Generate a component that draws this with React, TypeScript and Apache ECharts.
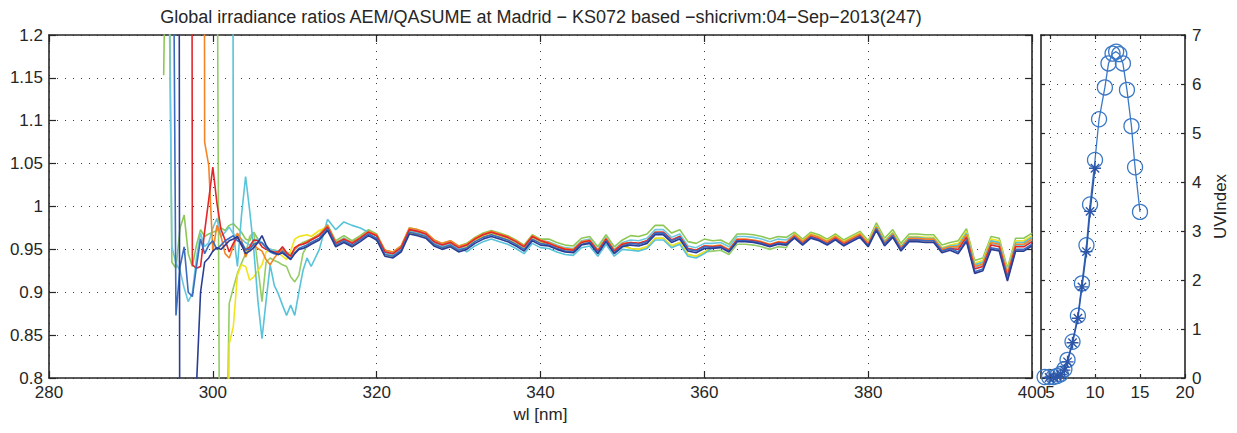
import React, { useEffect, useRef } from "react";
import * as echarts from "echarts";

// ---------- DATA ----------
const titleText =
  "Global irradiance ratios AEM/QASUME at Madrid \u2212 KS072 based \u2212shicrivm:04\u2212Sep\u22122013(247)";

// Wavelengths of the noisy short-wave part (nm)
const headWl = [
  293.5, 294, 294.5, 295, 295.5, 296, 296.5, 297, 297.5, 298, 298.5, 299, 299.5, 300, 300.5, 301, 301.5, 302,
  302.5, 303, 303.5, 304, 304.5, 305, 305.5, 306, 306.5, 307, 307.5, 308, 308.5, 309, 309.5, 310, 310.5, 311,
  311.5, 312, 313, 314, 315, 316, 317, 318, 319, 320,
];

// Per-series ratio values over headWl (values far outside 0.8-1.2 are off-chart excursions)
const darkBlueHead = [
  5, 5, 5, 5, 5, 0.3, 0.3, 0.3, 0.3, 0.79, 0.9, 0.935, 0.94, 0.948, 0.952, 0.95, 0.955, 0.96, 0.962, 0.965,
  0.955, 0.945, 0.948, 0.952, 0.958, 0.966, 0.955, 0.948, 0.946, 0.944, 0.946, 0.942, 0.938, 0.945, 0.95, 0.951,
  0.953, 0.956, 0.961, 0.972, 0.953, 0.958, 0.953, 0.959, 0.966, 0.961,
];
const blueHead = [
  5, 5, 5, 1.6, 0.873, 0.93, 0.953, 0.9, 0.895, 0.93, 0.962, 0.945, 0.955, 0.96, 0.95, 0.955, 0.96, 0.963,
  0.966, 0.96, 0.958, 0.95, 0.95, 0.956, 0.958, 0.958, 0.952, 0.947, 0.945, 0.944, 0.948, 0.943, 0.939, 0.946,
  0.951, 0.953, 0.955, 0.958, 0.963, 0.974, 0.955, 0.96, 0.955, 0.961, 0.968, 0.963,
];
const cyanAHead = [
  5, 5, 1.4, 0.953, 0.934, 0.925, 0.905, 0.889, 0.899, 0.94, 0.969, 0.953, 0.958, 0.975, 0.986, 0.965, 0.97,
  0.976, 0.968, 0.965, 0.962, 0.958, 0.955, 0.96, 0.962, 0.957, 0.953, 0.95, 0.949, 0.948, 0.951, 0.946, 0.943,
  0.95, 0.954, 0.956, 0.958, 0.961, 0.966, 0.977, 0.958, 0.963, 0.958, 0.964, 0.971, 0.966,
];
const cyanBHead = [
  5, 5, 5, 5, 5, 5, 5, 5, 5, 5, 5, 5, 5, 5, 5, 5, 5, 5, 0.97, 0.93, 0.99, 1.035, 0.995, 0.95, 0.89, 0.846, 0.89,
  0.932, 0.908, 0.898, 0.885, 0.873, 0.885, 0.873, 0.9, 0.925, 0.94, 0.93, 0.95, 0.985, 0.973, 0.982, 0.978,
  0.975, 0.97, 0.96,
];
const greenAHead = [
  null, 1.153, 1.5, 0.935, 0.928, 0.975, 0.99, 0.945, 0.93, 0.955, 0.973, 0.965, 0.968, 0.97, 0.972, 0.975,
  0.972, 0.978, 0.98, 0.975, 0.97, 0.962, 0.96, 0.97, 0.962, 0.957, 0.952, 0.95, 0.949, 0.948, 0.952, 0.947,
  0.944, 0.95, 0.955, 0.958, 0.96, 0.962, 0.968, 0.979, 0.96, 0.966, 0.96, 0.966, 0.973, 0.968,
];
const greenBHead = [
  5, 5, 5, 5, 5, 5, 5, 5, 5, 5, 5, 5, 5, 5, 1.4, 0.3, 0.6, 0.887, 0.905, 0.922, 0.934, 0.945, 0.965, 0.97, 0.93,
  0.889, 0.935, 0.94, 0.937, 0.935, 0.932, 0.93, 0.918, 0.912, 0.92, 0.945, 0.955, 0.962, 0.967, 0.978, 0.955,
  0.963, 0.958, 0.965, 0.97, 0.966,
];
const yellowHead = [
  0.3, 0.3, 0.3, 0.3, 0.3, 0.3, 0.3, 0.3, 0.3, 0.3, 0.3, 0.3, 0.3, 0.3, 0.3, 0.3, 0.3, 0.84, 0.86, 0.92, 0.932,
  0.93, 0.914, 0.918, 0.925, 0.932, 0.947, 0.949, 0.949, 0.946, 0.942, 0.938, 0.948, 0.962, 0.965, 0.966, 0.967,
  0.965, 0.972, 0.976, 0.955, 0.96, 0.953, 0.962, 0.968, 0.962,
];
const orangeHead = [
  5, 5, 5, 5, 5, 5, 5, 5, 5, 5, 5, 1.075, 1.048, 0.947, 0.978, 0.965, 0.945, 0.94, 0.953, 0.969, 0.961, 0.941,
  0.953, 0.955, 0.951, 0.948, 0.938, 0.932, 0.94, 0.946, 0.95, 0.945, 0.942, 0.95, 0.955, 0.957, 0.959, 0.962,
  0.967, 0.978, 0.958, 0.962, 0.958, 0.964, 0.971, 0.967,
];
const redHead = [
  5, 5, 5, 5, 5, 5, 5, 5, 0.932, 0.928, 0.93, 0.971, 1.008, 1.046, 1.004, 0.973, 0.961, 0.947, 0.957, 0.965,
  0.955, 0.949, 0.953, 0.961, 0.96, 0.953, 0.95, 0.948, 0.947, 0.947, 0.953, 0.946, 0.942, 0.952, 0.955, 0.956,
  0.958, 0.961, 0.966, 0.976, 0.957, 0.962, 0.957, 0.963, 0.97, 0.966,
];

// Long-wave part: common ratio curve (nm 321..400)
const tailWl = [
  321, 322, 323, 324, 325, 326, 327, 328, 329, 330, 331, 332, 333, 334, 335, 336, 337, 338, 339, 340, 341, 342,
  343, 344, 345, 346, 347, 348, 349, 350, 351, 352, 353, 354, 355, 356, 357, 358, 359, 360, 361, 362, 363, 364,
  365, 366, 367, 368, 369, 370, 371, 372, 373, 374, 375, 376, 377, 378, 379, 380, 381, 382, 383, 384, 385, 386,
  387, 388, 389, 390, 391, 392, 393, 394, 395, 396, 397, 398, 399, 400,
];
const tailBase = [
  0.946, 0.944, 0.951, 0.972, 0.97, 0.967, 0.958, 0.954, 0.957, 0.951, 0.954, 0.961, 0.966, 0.969, 0.966, 0.963,
  0.958, 0.952, 0.964, 0.959, 0.957, 0.953, 0.95, 0.949, 0.958, 0.96, 0.948, 0.962, 0.948, 0.956, 0.957, 0.956,
  0.959, 0.969, 0.969, 0.96, 0.964, 0.95, 0.948, 0.953, 0.954, 0.955, 0.95, 0.962, 0.962, 0.961, 0.959, 0.956,
  0.959, 0.958, 0.966, 0.958, 0.966, 0.963, 0.958, 0.964, 0.957, 0.962, 0.967, 0.956, 0.976, 0.958, 0.968, 0.952,
  0.963, 0.963, 0.962, 0.962, 0.95, 0.953, 0.952, 0.966, 0.929, 0.932, 0.957, 0.955, 0.92, 0.955, 0.955, 0.961,
];
// Each series' departure from that curve, one value per decade 321-330, 331-340 ... 391-400
const darkBlueTail = [-0.004, -0.004, -0.003, -0.002, -0.003, -0.003, -0.004, -0.007];
const blueTail = [-0.002, -0.002, -0.002, 0.0, -0.002, -0.002, -0.002, -0.005];
const cyanATail = [0.0, 0.001, 0.002, 0.004, 0.003, 0.001, 0.0, 0.0];
const cyanBTail = [0.002, -0.007, -0.006, -0.008, -0.002, -0.001, 0.001, 0.003];
const greenATail = [0.003, 0.003, 0.005, 0.009, 0.006, 0.004, 0.005, 0.008];
const greenBTail = [-0.001, 0.0, 0.0, -0.006, -0.006, 0.002, -0.002, 0.003];
const yellowTail = [-0.003, -0.001, -0.002, -0.006, -0.001, 0.002, 0.002, 0.005];
const orangeTail = [0.003, 0.002, 0.001, 0.001, 0.0, 0.001, 0.0, 0.001];
const redTail = [0.001, 0.001, 0.0, 0.001, -0.001, -0.001, -0.002, -0.002];

// UV index panel (hour, UVI)
const uvHour = [
  4.4, 4.9, 5.4, 5.8, 6.2, 6.6, 6.95, 7.5, 8.1, 8.55, 9.05, 9.45, 10.0, 10.45, 11.1, 11.5, 11.95, 12.35, 12.7,
  13.1, 13.55, 14.05, 14.45, 15.0,
];
const uvCircle = [
  0.02, 0.02, 0.02, 0.04, 0.08, 0.18, 0.37, 0.74, 1.27, 1.93, 2.71, 3.54, 4.45, 5.28, 5.93, 6.42, 6.62, 6.66,
  6.61, 6.42, 5.88, 5.14, 4.3, 3.39,
];
const uvStarHour = [4.9, 5.4, 5.8, 6.2, 6.6, 6.95, 7.5, 8.1, 8.55, 9.05, 9.45, 10.0];
const uvStar = [0.01, 0.01, 0.03, 0.07, 0.16, 0.33, 0.72, 1.22, 1.86, 2.58, 3.4, 4.28];

const xTicksMain = [280, 300, 320, 340, 360, 380, 400];
const uvHourTicks = [5, 10, 15, 20];

// ---------- STYLE ----------
const seriesDefs = [
  { name: "g1", color: "#8dc857", head: greenAHead, tail: greenATail },
  { name: "g2", color: "#95cc66", head: greenBHead, tail: greenBTail },
  { name: "y", color: "#f2e41c", head: yellowHead, tail: yellowTail },
  { name: "c2", color: "#58c3d9", head: cyanBHead, tail: cyanBTail },
  { name: "c1", color: "#6cc8e0", head: cyanAHead, tail: cyanATail },
  { name: "o", color: "#f58426", head: orangeHead, tail: orangeTail },
  { name: "r", color: "#e4262a", head: redHead, tail: redTail },
  { name: "b", color: "#3a6cc0", head: blueHead, tail: blueTail },
  { name: "db", color: "#2a3d96", head: darkBlueHead, tail: darkBlueTail },
];

const FONT = "'Liberation Sans', Arial, Helvetica, sans-serif";
const INK = "#262626";
const DOT = { color: "#3a3a3a", width: 1, type: [1, 7] as any };

function buildLine(head: (number | null)[], tail: number[]) {
  const pts: [number, number | null][] = [];
  headWl.forEach((w, i) => pts.push([w, head[i]]));
  tailWl.forEach((w, j) => {
    const d = Math.min(7, Math.floor((w - 321) / 10));
    pts.push([w, +(tailBase[j] + tail[d]).toFixed(4)]);
  });
  return pts;
}

const axisLine = { show: true, onZero: false, lineStyle: { color: INK, width: 1.6 } };
const label = { color: INK, fontSize: 17, fontFamily: FONT };

const option: any = {
  animation: false,
  backgroundColor: "#ffffff",
  graphic: [
    {
      type: "text",
      x: 541,
      y: 17,
      style: { text: titleText, fontSize: 18, fontFamily: FONT, fill: INK, align: "center", verticalAlign: "middle" },
    },
  ],
  grid: [
    { left: 49, top: 35, width: 983, height: 343 },
    { left: 1041, top: 35, width: 144, height: 343 },
  ],
  xAxis: [
    {
      gridIndex: 0,
      type: "value",
      min: 280,
      max: 400,
      interval: 20,
      position: "bottom",
      axisLine,
      axisTick: { inside: true, length: 7, lineStyle: { color: INK, width: 1.2 } },
      axisLabel: { ...label, margin: 6, customValues: xTicksMain },
      splitLine: { show: true, lineStyle: DOT },
      name: "wl [nm]",
      nameLocation: "middle",
      nameGap: 28,
      nameTextStyle: { ...label },
    },
    {
      gridIndex: 0,
      type: "value",
      min: 280,
      max: 400,
      interval: 20,
      position: "top",
      axisLine,
      axisTick: { inside: true, length: 7, lineStyle: { color: INK, width: 1.2 } },
      axisLabel: { show: false },
      splitLine: { show: false },
    },
    {
      gridIndex: 1,
      type: "value",
      min: 4,
      max: 20,
      position: "bottom",
      axisLine,
      axisTick: { inside: true, length: 4, customValues: uvHourTicks, lineStyle: { color: INK, width: 1.2 } },
      axisLabel: { ...label, margin: 6, customValues: uvHourTicks },
      splitLine: { show: false },
    },
    {
      gridIndex: 1,
      type: "value",
      min: 4,
      max: 20,
      position: "top",
      axisLine,
      axisTick: { inside: true, length: 4, customValues: uvHourTicks, lineStyle: { color: INK, width: 1.2 } },
      axisLabel: { show: false },
      splitLine: { show: false },
    },
  ],
  yAxis: [
    {
      gridIndex: 0,
      type: "value",
      min: 0.8,
      max: 1.2,
      interval: 0.05,
      position: "left",
      axisLine,
      axisTick: { inside: true, length: 7, lineStyle: { color: INK, width: 1.2 } },
      axisLabel: { ...label, margin: 6 },
      splitLine: { show: true, lineStyle: DOT },
    },
    {
      gridIndex: 0,
      type: "value",
      min: 0.8,
      max: 1.2,
      interval: 0.05,
      position: "right",
      axisLine,
      axisTick: { inside: true, length: 7, lineStyle: { color: INK, width: 1.2 } },
      axisLabel: { show: false },
      splitLine: { show: false },
    },
    {
      gridIndex: 1,
      type: "value",
      min: 0,
      max: 7,
      interval: 1,
      position: "right",
      axisLine,
      axisTick: { inside: true, length: 4, lineStyle: { color: INK, width: 1.2 } },
      axisLabel: { ...label, margin: 7 },
      splitLine: { show: true, lineStyle: DOT },
      name: "UVIndex",
      nameLocation: "middle",
      nameRotate: 90,
      nameGap: 27,
      nameTextStyle: { ...label },
    },
    {
      gridIndex: 1,
      type: "value",
      min: 0,
      max: 7,
      interval: 1,
      position: "left",
      axisLine,
      axisTick: { inside: true, length: 4, lineStyle: { color: INK, width: 1.2 } },
      axisLabel: { show: false },
      splitLine: { show: false },
    },
  ],
  series: [
    ...seriesDefs.map((s) => ({
      type: "line",
      name: s.name,
      xAxisIndex: 0,
      yAxisIndex: 0,
      data: buildLine(s.head, s.tail),
      showSymbol: false,
      symbol: "none",
      clip: true,
      lineStyle: { color: s.color, width: 1.6 },
      itemStyle: { color: s.color },
    })),
    {
      type: "line",
      name: "uvi",
      xAxisIndex: 2,
      yAxisIndex: 2,
      data: uvHour.map((h, i) => [h, uvCircle[i]]),
      symbol: "circle",
      symbolSize: 15,
      lineStyle: { color: "#3b78c6", width: 1.3 },
      itemStyle: { color: "transparent", borderColor: "#3b78c6", borderWidth: 1.3 },
      markLine: {
        silent: true,
        symbol: ["none", "none"],
        label: { show: false },
        lineStyle: { ...DOT },
        data: [{ xAxis: 5 }, { xAxis: 10 }, { xAxis: 15 }],
      },
      z: 3,
    },
    {
      type: "line",
      name: "uvi2",
      xAxisIndex: 2,
      yAxisIndex: 2,
      data: uvStarHour.map((h, i) => [h, uvStar[i]]),
      symbol: "path://M5,0L5,10M0,5L10,5M1.5,1.5L8.5,8.5M8.5,1.5L1.5,8.5",
      symbolSize: 12,
      lineStyle: { color: "#2d56a8", width: 1.5 },
      itemStyle: { color: "none", borderColor: "#2d56a8", borderWidth: 1.4 },
      z: 4,
    },
  ],
};

export default function App() {
  const ref = useRef<HTMLDivElement>(null);
  useEffect(() => {
    if (!ref.current) return;
    const chart = echarts.init(ref.current, null, { renderer: "svg" });
    chart.setOption(option);
    return () => chart.dispose();
  }, []);
  return (
    <div
      ref={ref}
      style={{ position: "absolute", left: 0, top: 0, width: 1237, height: 433, background: "#fff" }}
    />
  );
}
